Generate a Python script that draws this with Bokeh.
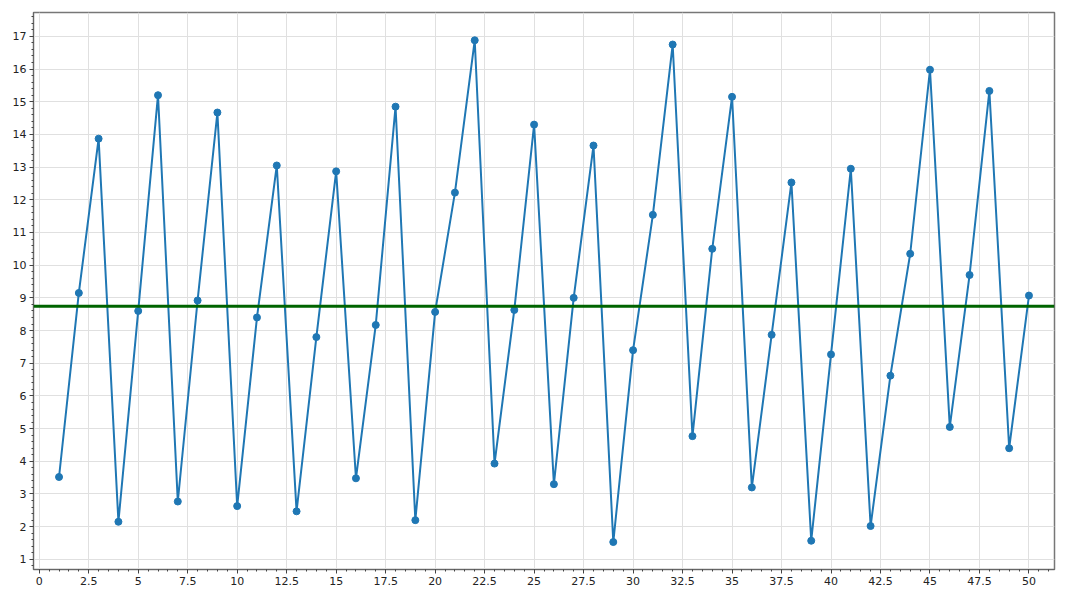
from bokeh.plotting import figure
from bokeh.models import Span, Range1d, SingleIntervalTicker
from bokeh.embed import file_html
from bokeh.resources import INLINE

x_values = list(range(1, 51))
y_values = [3.52, 9.15, 13.87, 2.15, 8.6, 15.2, 2.77, 8.92, 14.67, 2.63,
            8.4, 13.05, 2.47, 7.8, 12.87, 3.48, 8.17, 14.85, 2.2, 8.57,
            12.22, 16.88, 3.93, 8.63, 14.3, 3.3, 9.0, 13.66, 1.53, 7.4,
            11.54, 16.75, 4.77, 10.5, 15.15, 3.2, 7.87, 12.53, 1.57, 7.27,
            12.95, 2.02, 6.62, 10.35, 15.98, 5.05, 9.7, 15.33, 4.4, 9.07]
mean_value = 8.74

p = figure(width=1062, height=594, output_backend="svg", toolbar_location=None,
           x_range=Range1d(-0.29, 51.29), y_range=Range1d(0.69, 17.73),
           min_border_left=33, min_border_top=12, min_border_right=8, min_border_bottom=25)

p.line(x_values, y_values, line_color="#1f77b4", line_width=2)
p.scatter(x_values, y_values, size=7, fill_color="#1f77b4", line_color="#1f77b4")

p.add_layout(Span(location=mean_value, dimension="width", line_color="#006400", line_width=3))

p.xaxis.ticker = SingleIntervalTicker(interval=2.5, num_minor_ticks=5)
p.yaxis.ticker = SingleIntervalTicker(interval=1, num_minor_ticks=5)

for ax in (p.xaxis, p.yaxis):
    ax.axis_line_color = "#666666"
    ax.major_tick_line_color = "#444444"
    ax.minor_tick_line_color = "#444444"
    ax.major_tick_out = 4
    ax.major_tick_in = 0
    ax.minor_tick_out = 2
    ax.minor_tick_in = 0
    ax.major_label_standoff = 3
    ax.major_label_text_font = "DejaVu Sans"
    ax.major_label_text_font_size = "11px"
    ax.major_label_text_color = "#222222"

p.grid.grid_line_color = "#e0e0e0"
p.outline_line_color = "#777777"
p.outline_line_width = 1.5

open("out.html", "w").write(file_html(p, INLINE))
